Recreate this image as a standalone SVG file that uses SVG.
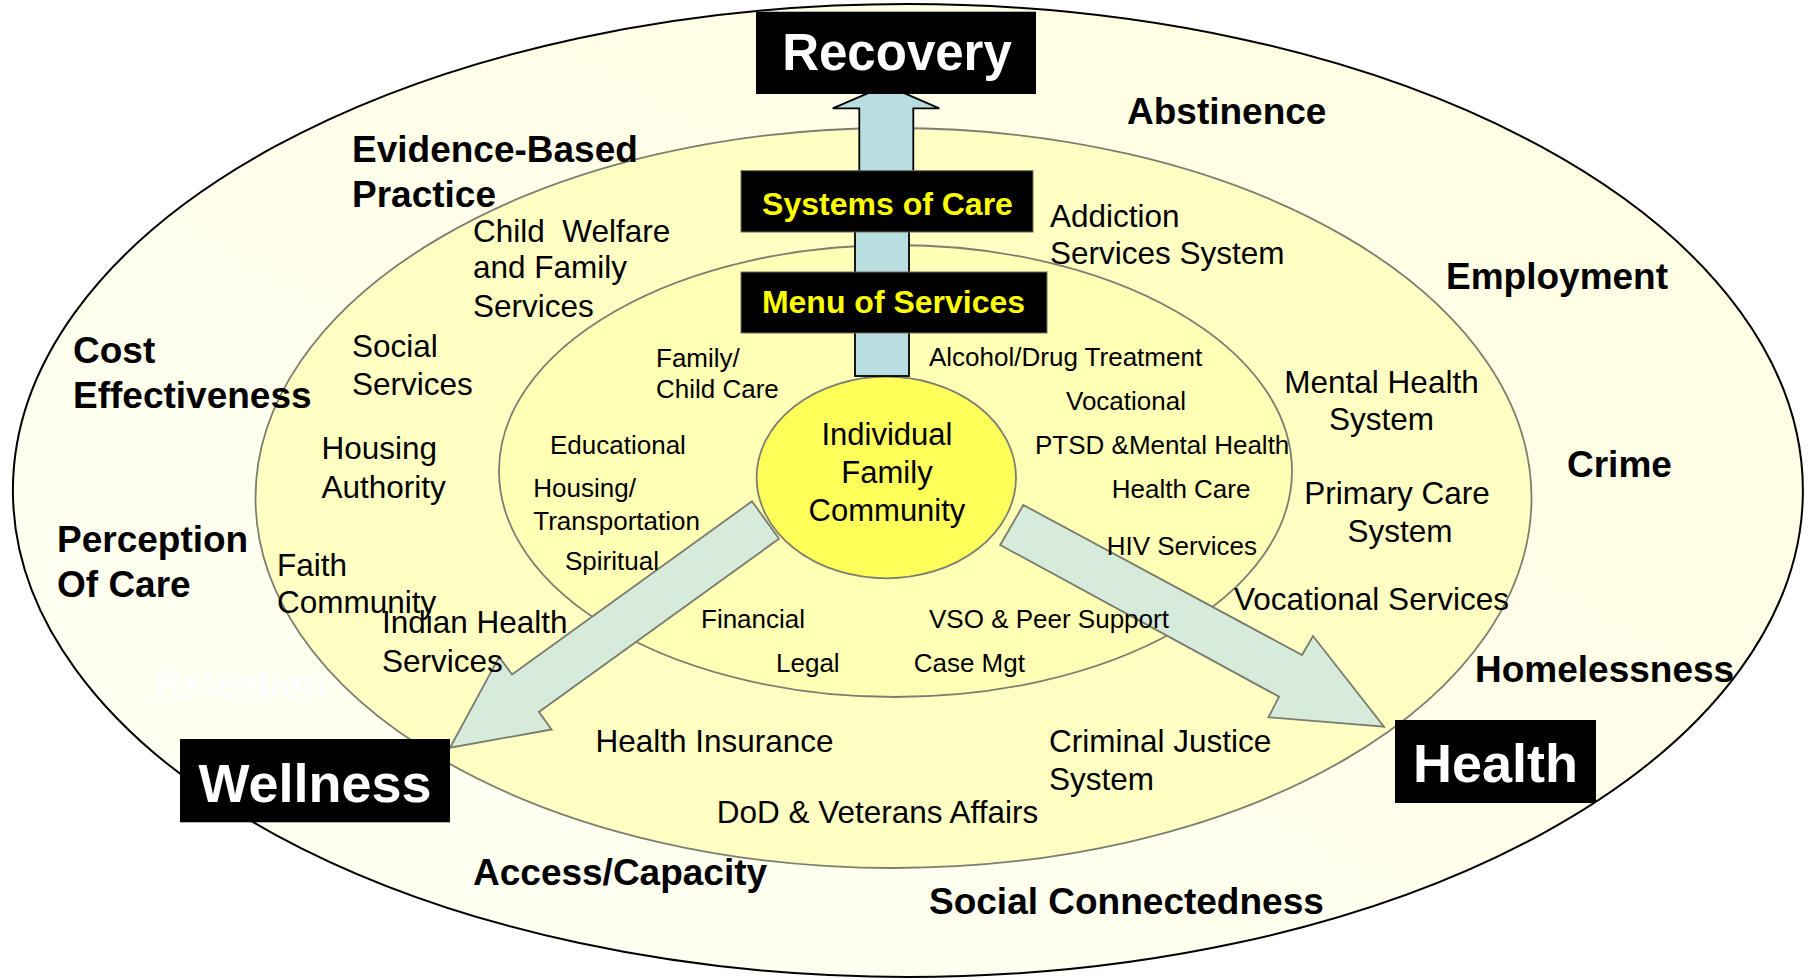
<svg xmlns="http://www.w3.org/2000/svg" width="1810" height="979" viewBox="0 0 1810 979">
<style>
  text { font-family: "Liberation Sans", Arial, sans-serif; fill: #000; }
  .bold { font-weight: bold; font-size: 37px; }
  .mid { font-size: 31.5px; }
  .inner { font-size: 26px; }
  .core { font-size: 31px; }
  .box { fill: #000; }
  .ytxt { fill: #FFFF00; font-weight: bold; font-size: 32px; }
  .wtxt { fill: #FFFFFF; font-weight: bold; }
  .diag { fill: #D6EBDA; stroke: #7A7A6E; stroke-width: 1.8; stroke-linejoin: miter; }
  .up { fill: #B9DEE2; stroke: #000; stroke-width: 1.8; }
</style>
<defs>
  <linearGradient id="gOuter" x1="1" y1="0" x2="0" y2="1">
    <stop offset="0" stop-color="#FFFFE0"/>
    <stop offset="1" stop-color="#FFFFF6"/>
  </linearGradient>
</defs>
<rect width="1810" height="979" fill="#FFFFFF"/>

<g id="ring-outer">
  <ellipse cx="907.9" cy="490.5" rx="895" ry="486.5" fill="url(#gOuter)" stroke="#000" stroke-width="2"/>
</g>
<g id="ring-middle">
  <ellipse cx="893.5" cy="498" rx="638" ry="370" fill="#FFFFC4" stroke="#7E7E70" stroke-width="1.8"/>
</g>
<g id="ring-inner">
  <ellipse cx="895.5" cy="471" rx="396.5" ry="226" fill="#FFFFB6" stroke="#7E7E70" stroke-width="1.8"/>
</g>
<g id="core">
  <ellipse cx="886.3" cy="477.5" rx="129.7" ry="100.8" fill="#FFFF5A" stroke="#7E7E70" stroke-width="1.8"/>
</g>

<g id="connectors">
  <rect class="up" x="855" y="200" width="54" height="176"/>
  <polygon class="up" points="859.3,200 859.3,108.3 832.7,108.3 886.3,85.3 939.3,108.3 913.3,108.3 913.3,200"/>
  <polygon class="diag" points="752,501.3 512,674.5 499.2,656.9 450,747.7 551.6,729.5 538.9,711.9 779,538.7"/>
  <polygon class="diag" points="1023.3,505 1302,655 1313,636 1384,726.7 1268.5,717.3 1279,696.7 1000.2,545"/>
</g>

<g id="core-label">
  <text class="core" x="887" y="445" text-anchor="middle">Individual</text>
  <text class="core" x="887" y="483.3" text-anchor="middle">Family</text>
  <text class="core" x="887" y="520.7" text-anchor="middle">Community</text>
</g>

<g id="recovery">
  <rect class="box" x="756" y="11.7" width="280" height="82.3"/>
  <text class="wtxt" font-size="51" x="897" y="70" text-anchor="middle">Recovery</text>
</g>
<g id="systems-of-care">
  <rect class="box" x="741" y="170.7" width="292" height="61.3" stroke="#6E6E5A" stroke-width="1"/>
  <text class="ytxt" x="887.5" y="215" text-anchor="middle">Systems of Care</text>
</g>
<g id="menu-of-services">
  <rect class="box" x="741" y="272" width="306" height="61" stroke="#6E6E5A" stroke-width="1"/>
  <text class="ytxt" x="893.5" y="313" text-anchor="middle">Menu of Services</text>
</g>
<g id="wellness">
  <rect class="box" x="180" y="739" width="270" height="83.3"/>
  <text class="wtxt" font-size="54" x="315" y="801.7" text-anchor="middle">Wellness</text>
</g>
<g id="health">
  <rect class="box" x="1395" y="720" width="201" height="83"/>
  <text class="wtxt" font-size="54" x="1495.5" y="781.7" text-anchor="middle">Health</text>
</g>

<g id="outer-labels">
  <text class="bold" x="1127" y="124">Abstinence</text>
  <text class="bold" x="352" y="162">Evidence-Based</text>
  <text class="bold" x="352" y="207">Practice</text>
  <text class="bold" x="73" y="362.7">Cost</text>
  <text class="bold" x="73" y="408.3">Effectiveness</text>
  <text class="bold" x="57" y="551.7">Perception</text>
  <text class="bold" x="57" y="596.7">Of Care</text>
  <text class="bold" x="1446" y="289">Employment</text>
  <text class="bold" x="1567" y="477">Crime</text>
  <text class="bold" x="1475" y="681.7">Homelessness</text>
  <text class="bold" x="929" y="914">Social Connectedness</text>
  <text class="bold" x="473" y="885">Access/Capacity</text>
  <text class="bold" x="155" y="697" style="fill:#FFFFFF">Retention</text>
</g>

<g id="middle-labels">
  <text class="mid" x="473" y="241.7" xml:space="preserve">Child  Welfare</text>
  <text class="mid" x="473" y="278.3">and Family</text>
  <text class="mid" x="473" y="316.7">Services</text>
  <text class="mid" x="1050" y="226.7">Addiction</text>
  <text class="mid" x="1050" y="264.3">Services System</text>
  <text class="mid" x="352" y="357">Social</text>
  <text class="mid" x="352" y="395">Services</text>
  <text class="mid" x="321.5" y="459.3">Housing</text>
  <text class="mid" x="321.5" y="498.3">Authority</text>
  <text class="mid" x="277" y="576">Faith</text>
  <text class="mid" x="277" y="613.3">Community</text>
  <text class="mid" x="382" y="633.3">Indian Health</text>
  <text class="mid" x="382" y="671.7">Services</text>
  <text class="mid" x="1381.5" y="393.3" text-anchor="middle">Mental Health</text>
  <text class="mid" x="1381.5" y="430" text-anchor="middle">System</text>
  <text class="mid" x="1397" y="504" text-anchor="middle">Primary Care</text>
  <text class="mid" x="1400" y="541.7" text-anchor="middle">System</text>
  <text class="mid" x="1234" y="610">Vocational Services</text>
  <text class="mid" x="595.5" y="751.7">Health Insurance</text>
  <text class="mid" x="716.7" y="823.3">DoD &amp; Veterans Affairs</text>
  <text class="mid" x="1049" y="751.7">Criminal Justice</text>
  <text class="mid" x="1049" y="790">System</text>
</g>

<g id="inner-labels">
  <text class="inner" x="656" y="366.7">Family/</text>
  <text class="inner" x="656" y="398.3">Child Care</text>
  <text class="inner" x="550" y="454.3">Educational</text>
  <text class="inner" x="533.3" y="497.3">Housing/</text>
  <text class="inner" x="533.3" y="530">Transportation</text>
  <text class="inner" x="565" y="570">Spiritual</text>
  <text class="inner" x="929" y="366">Alcohol/Drug Treatment</text>
  <text class="inner" x="1066" y="410">Vocational</text>
  <text class="inner" x="1035" y="454">PTSD &amp;Mental Health</text>
  <text class="inner" x="1111.7" y="497.7">Health Care</text>
  <text class="inner" x="1106.7" y="555">HIV Services</text>
  <text class="inner" x="701" y="628.3">Financial</text>
  <text class="inner" x="776" y="671.7">Legal</text>
  <text class="inner" x="929" y="628.3">VSO &amp; Peer Support</text>
  <text class="inner" x="913.7" y="671.7">Case Mgt</text>
</g>
</svg>
